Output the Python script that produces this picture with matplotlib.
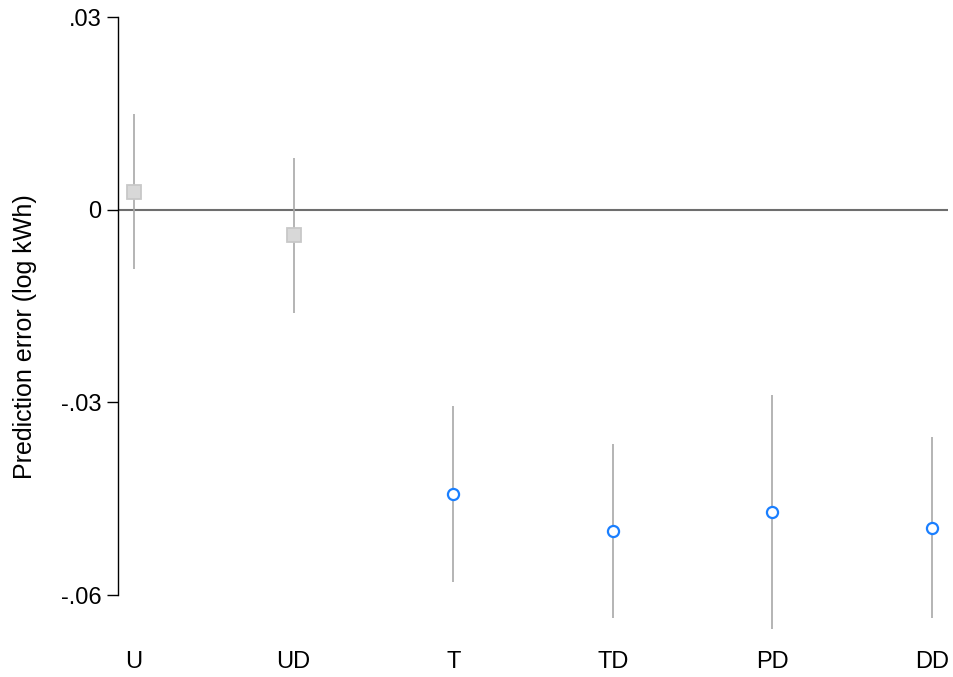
import matplotlib
matplotlib.use("Agg")
import matplotlib.pyplot as plt
import numpy as np

plt.rcParams["font.family"] = ["Liberation Sans", "DejaVu Sans"]

# point estimates and 95% CI bounds of the prediction error, by group
groups = ["U", "UD", "T", "TD", "PD", "DD"]
estimate = [0.0028, -0.0040, -0.0443, -0.0500, -0.0471, -0.0495]
ci_low = [-0.0092, -0.0161, -0.0579, -0.0636, -0.0653, -0.0636]
ci_high = [0.0149, 0.0081, -0.0306, -0.0365, -0.0288, -0.0354]
untreated = ["U", "UD"]

yticks = [0.03, 0.0, -0.03, -0.06]
ytick_labels = [".03", "0", "-.03", "-.06"]

fig = plt.figure(figsize=(9.54, 6.77), dpi=100)
ax = fig.add_axes([118 / 954, 37 / 677, 830 / 954, 630 / 677])

x = np.arange(len(groups))
ax.axhline(0, color="#6e6e6e", lw=1.5, zorder=1)
ax.vlines(x, ci_low, ci_high, color="#a8a8a8", lw=1.2, zorder=2)

for xi, g, est in zip(x, groups, estimate):
    if g in untreated:
        ax.plot(xi, est, marker="s", ms=9.5, mfc="#d8d8d8", mec="#c8c8c8", mew=1.3, zorder=3)
    else:
        ax.plot(xi, est, marker="o", ms=8, mfc="white", mec="#1a7fff", mew=1.6, zorder=3)

ax.set_xlim(-0.1, 5.1)
ax.set_ylim(-0.067, 0.0311)

ax.set_xticks(x)
ax.set_xticklabels(groups, fontsize=17)
ax.tick_params(axis="x", length=0, pad=8)
ax.set_yticks(yticks)
ax.set_yticklabels(ytick_labels, fontsize=17)
ax.tick_params(axis="y", length=8, width=1, direction="out", pad=4)
ax.set_ylabel("Prediction error (log kWh)", fontsize=18)
ax.yaxis.set_label_coords(-0.097, 0.481)

for side in ["top", "right", "bottom"]:
    ax.spines[side].set_visible(False)
ax.spines["left"].set_bounds(-0.06, 0.03)
ax.spines["left"].set_linewidth(1)

fig.savefig("out.png", dpi=100)
